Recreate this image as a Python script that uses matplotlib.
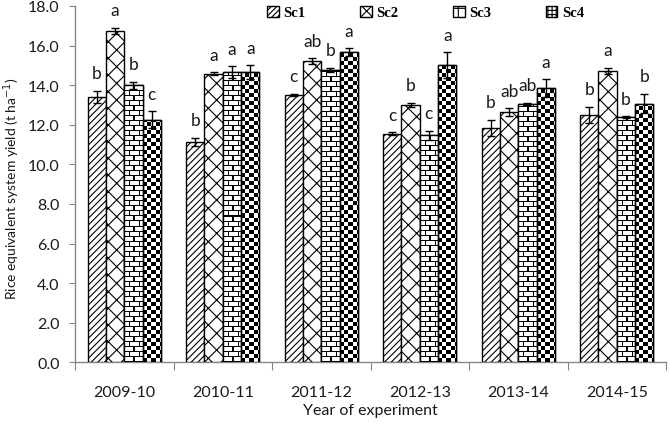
import matplotlib
matplotlib.use("Agg")
import matplotlib.pyplot as plt
from matplotlib.patches import Patch
import numpy as np

years = ["2009-10", "2010-11", "2011-12", "2012-13", "2013-14", "2014-15"]
scenarios = ["Sc1", "Sc2", "Sc3", "Sc4"]

sc1 = [13.42, 11.15, 13.52, 11.55, 11.85, 12.50]
sc2 = [16.75, 14.58, 15.22, 13.00, 12.63, 14.73]
sc3 = [14.00, 14.67, 14.78, 11.47, 13.07, 12.39]
sc4 = [12.26, 14.67, 15.66, 15.02, 13.86, 13.07]

sc1_err = [0.30, 0.20, 0.05, 0.08, 0.40, 0.42]
sc2_err = [0.14, 0.07, 0.15, 0.12, 0.20, 0.14]
sc3_err = [0.17, 0.29, 0.10, 0.24, 0.05, 0.05]
sc4_err = [0.42, 0.34, 0.20, 0.64, 0.44, 0.49]

sc1_letters = ["b", "b", "c", "c", "b", "b"]
sc2_letters = ["a", "a", "ab", "b", "ab", "a"]
sc3_letters = ["b", "a", "b", "c", "ab", "b"]
sc4_letters = ["c", "a", "a", "a", "a", "b"]

values = [sc1, sc2, sc3, sc4]
errors = [sc1_err, sc2_err, sc3_err, sc4_err]
letters = [sc1_letters, sc2_letters, sc3_letters, sc4_letters]
hatches = ["/////", "xx", None, None]
legend_hatches = ["//////", "xxx", "+", "++++"]

plt.rcParams["hatch.linewidth"] = 0.8


def brick_texture(h, w):
    img = np.ones((h, w))
    bh, bw = 5, 9
    for i in range(h):
        course = i // bh
        if i % bh == 0:
            img[i, :] = 0
            continue
        shift = 0 if course % 2 == 0 else bw // 2
        for j in range(w):
            if (j + shift) % bw == 0:
                img[i, j] = 0
    return img


def checker_texture(h, w):
    s = 4
    ii, jj = np.mgrid[0:h, 0:w]
    return (((ii // s) + (jj // s)) % 2).astype(float)


fig = plt.figure(figsize=(6.7, 4.27), dpi=100)
ax = fig.add_axes([75 / 670, 1 - 363.4 / 427, 591 / 670, 356.4 / 427])

x = np.arange(len(years))
bw = 0.186
offsets = (np.arange(4) - 1.5) * bw

ax.set_xlim(-0.5, len(years) - 0.5)
ax.set_ylim(0, 18)

px_per_x = 591 / len(years)
px_per_y = 356.4 / 18

for k in range(4):
    bars = ax.bar(x + offsets[k], values[k], width=bw, facecolor="white",
                  edgecolor="black", linewidth=1.0, hatch=hatches[k], zorder=3)
    ax.errorbar(x + offsets[k], values[k], yerr=errors[k], fmt="none",
                ecolor="black", elinewidth=1.0, capsize=3, capthick=1.0, zorder=5)
    if k >= 2:
        for b in bars:
            x0 = b.get_x()
            w = b.get_width()
            h = b.get_height()
            wp = max(int(round(w * px_per_x)), 1)
            hp = max(int(round(h * px_per_y)), 1)
            tex = brick_texture(hp, wp) if k == 2 else checker_texture(hp, wp)
            im = ax.imshow(tex, extent=(x0, x0 + w, 0, h), origin="lower",
                           cmap="gray", vmin=0, vmax=1, aspect="auto",
                           interpolation="nearest", zorder=3.5)
            im.set_clip_path(b)
        # outline again over the texture
        ax.bar(x + offsets[k], values[k], width=bw, fill=False,
               edgecolor="black", linewidth=1.0, zorder=4)
    for i in range(len(years)):
        ax.annotate(letters[k][i], (x[i] + offsets[k], values[k][i] + errors[k][i]),
                    xytext=(0, 9), textcoords="offset points", ha="center",
                    va="baseline", fontsize=12.5, family="Lato", color="#1a1a1a")

ax.set_xlim(-0.5, len(years) - 0.5)
ax.set_ylim(0, 18)

ax.set_yticks(np.arange(0, 18.1, 2))
ax.set_yticklabels([f"{v:.1f}" for v in np.arange(0, 18.1, 2)])
ax.set_xticks(np.arange(-0.5, len(years), 1))
ax.set_xticklabels([])
ax.set_xticks(x, minor=True)
ax.set_xticklabels(years, minor=True)
ax.tick_params(axis="x", which="major", length=6, direction="out", color="#868686")
ax.tick_params(axis="x", which="minor", length=0, pad=16, labelsize=11.5)
ax.tick_params(axis="y", length=4, direction="out", color="#868686", pad=7, labelsize=11.5)
for lab in ax.get_xticklabels(minor=True) + ax.get_yticklabels():
    lab.set_family("Lato")
    lab.set_color("#1a1a1a")

for s in ["top", "right"]:
    ax.spines[s].set_visible(False)
for s in ["left", "bottom"]:
    ax.spines[s].set_color("#868686")
    ax.spines[s].set_linewidth(1.0)

ax.set_xlabel("Year of experiment", family="Lato", fontsize=11.5, color="#1a1a1a", labelpad=3)
ax.set_ylabel("Rice equivalent system yield (t ha$^{-1}$)", family="Lato",
              fontsize=10, color="#1a1a1a", va="center")
ax.yaxis.set_label_coords(-0.107, 0.49)

handles = [Patch(facecolor="white", edgecolor="black", hatch=h, linewidth=1.0)
           for h in legend_hatches]
fig.legend(handles, scenarios, loc="center left", bbox_to_anchor=(0.388, 0.968),
           ncol=4, frameon=False, handlelength=0.8, handleheight=0.8,
           handletextpad=0.3, columnspacing=3.75, borderpad=0,
           prop={"family": "Liberation Serif", "weight": "bold", "size": 10.5})

fig.savefig("out.png", dpi=100)
